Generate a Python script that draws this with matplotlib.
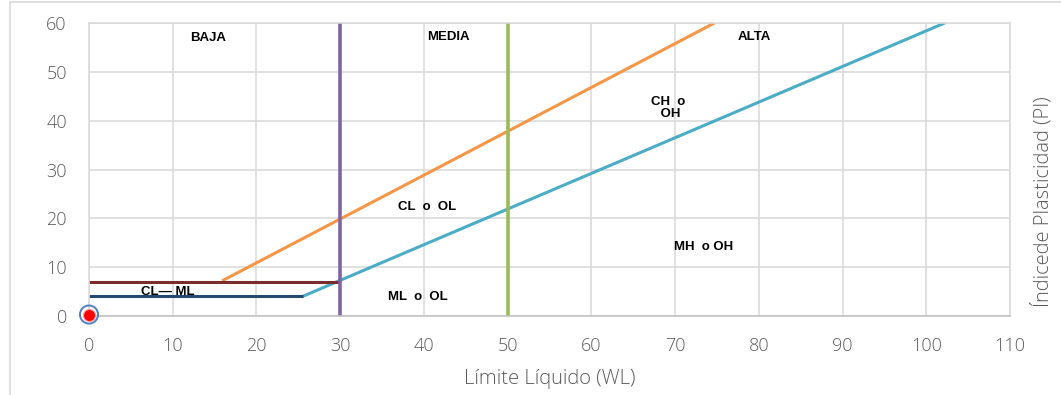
import matplotlib
matplotlib.use("Agg")
import matplotlib.pyplot as plt
from matplotlib.patches import Rectangle

# Plasticity chart (Casagrande)
u_line_x = [15.9, 74.7]
u_line_y = [7.2, 60]
a_line_x = [25.5, 30, 102.2]
a_line_y = [4, 7.3, 60]
cl_ml_top_x = [0, 30]
cl_ml_top_y = [7, 7]
cl_ml_bot_x = [0, 25.5]
cl_ml_bot_y = [4, 4]
low_limit_x = [30, 30]
high_limit_x = [50, 50]
limit_y = [0, 60]
sample_x = [0]
sample_y = [0.3]

zone_labels = ["BAJA", "MEDIA", "ALTA", "CH  o\n OH", "CL  o  OL",
               "MH  o OH", "ML  o  OL", "CL\u2014 ML"]
zone_x = [14.2, 42.9, 79.5, 69.2, 40.4, 73.4, 39.3, 9.4]
zone_y = [56.9, 57.2, 57.2, 42.6, 22.3, 14.1, 3.9, 4.9]

x_ticks = list(range(0, 111, 10))
y_ticks = list(range(0, 61, 10))

TICK = "#595959"
GRID = "#d9d9d9"

fig = plt.figure(figsize=(10.61, 3.95), dpi=100)
fig.patches.append(Rectangle((10 / 1061, -0.01), 1.1, 1 - 2 / 395 + 0.01,
                             transform=fig.transFigure, fill=False,
                             edgecolor=GRID, lw=1.2))
ax = fig.add_axes([89 / 1061, 1 - 316 / 395, 921 / 1061, 293 / 395])

ax.plot(u_line_x, u_line_y, color="#f79646", lw=2.2, solid_capstyle="butt")
ax.plot(a_line_x, a_line_y, color="#4bacc6", lw=2.2, solid_capstyle="butt")
ax.plot(cl_ml_top_x, cl_ml_top_y, color="#7b2c2c", lw=2.2, solid_capstyle="butt")
ax.plot(cl_ml_bot_x, cl_ml_bot_y, color="#254a72", lw=2.2, solid_capstyle="butt")
ax.plot(low_limit_x, limit_y, color="#8064a2", lw=2.6, solid_capstyle="butt")
ax.plot(high_limit_x, limit_y, color="#9bbb59", lw=2.6, solid_capstyle="butt")

ax.scatter(sample_x, sample_y, s=170, facecolor="none", edgecolor="#4f81bd",
           lw=1.4, zorder=5, clip_on=False)
ax.scatter(sample_x, sample_y, s=75, color="#ff0000", edgecolor="#ff9999",
           lw=0.8, zorder=6, clip_on=False)

for lab, x, y in zip(zone_labels, zone_x, zone_y):
    ax.text(x, y, lab, ha="center", va="center", fontsize=9.5,
            fontweight="bold", family="Liberation Sans", color="black",
            linespacing=0.95)

ax.set_xlim(0, 110)
ax.set_ylim(0, 60)
ax.set_xticks(x_ticks)
ax.set_yticks(y_ticks)
ax.grid(True, color=GRID, lw=1.1)
ax.set_axisbelow(True)
for s in ax.spines.values():
    s.set_color(GRID)
    s.set_linewidth(1.1)
ax.spines["bottom"].set_color("#bfbfbf")
ax.tick_params(axis="x", length=0, labelsize=13, labelcolor=TICK, pad=15)
ax.tick_params(axis="y", length=0, labelsize=13, labelcolor=TICK, pad=16)
for lab in ax.get_xticklabels() + ax.get_yticklabels():
    lab.set_family("Open Sans")
    lab.set_fontweight("light")

ax.set_xlabel("L\u00edmite L\u00edquido (WL)", fontsize=14.5, color=TICK,
              family="Open Sans", fontweight="light", labelpad=10)
ax.yaxis.set_label_position("right")
ax.set_ylabel("\u00cdndicede Plasticidad (PI)", fontsize=14.5, color=TICK,
              family="Open Sans", fontweight="light")
ax.yaxis.set_label_coords(1.0 + 22 / 921, 0.39)

fig.savefig("out.png", dpi=100)
